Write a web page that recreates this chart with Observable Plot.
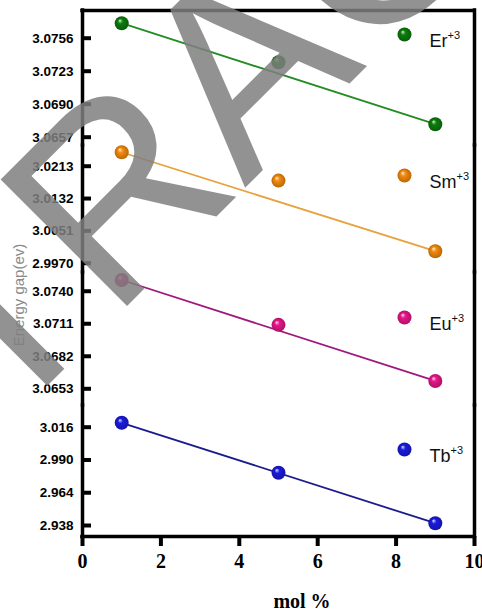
<!DOCTYPE html>
<html>
<head>
<meta charset="utf-8">
<script src="https://cdn.jsdelivr.net/npm/d3@7"></script>
<script src="https://cdn.jsdelivr.net/npm/@observablehq/plot@0.6"></script>
<style>
  html, body { margin: 0; padding: 0; background: #fff; }
  #wrap { position: relative; width: 482px; height: 611px; overflow: hidden; font-family: "Liberation Sans", Arial, sans-serif; }
  #wrap svg { position: absolute; left: 0; overflow: visible; }
</style>
</head>
<body>
<div id="wrap"></div>
<script>
// ---- data ----
const molPercent = [1, 5, 9];
const ions = ["Er", "Sm", "Eu", "Tb"];
const charges = ["+3", "+3", "+3", "+3"];
const erValues = [3.0771, 3.0732, 3.0670];
const smValues = [3.0248, 3.0177, 3.0000];
const euValues = [3.0750, 3.0710, 3.0660];
const tbValues = [3.0195, 2.9799, 2.9398];
const erTicks = [3.0756, 3.0723, 3.0690, 3.0657];
const smTicks = [3.0213, 3.0132, 3.0051, 2.9970];
const euTicks = [3.0740, 3.0711, 3.0682, 3.0653];
const tbTicks = [3.016, 2.990, 2.964, 2.938];
const xTicks = [0, 2, 4, 6, 8, 10];
const xLabel = "mol %";
const yLabel = "Energy gap(ev)";
const watermark = ["RET", "RACTED"];

// ---- layout / style ----
const panels = [
  {ion: ions[0], values: erValues, ticks: erTicks, fmt: ".4f", domain: [3.06487, 3.07837], top: 10,  bottom: 145, dot: "#0b7d0b", line: "#238c23", legendDy: 24},
  {ion: ions[1], values: smValues, ticks: smTicks, fmt: ".4f", domain: [2.99467, 3.02649], top: 145, bottom: 272, dot: "#f58a0b", line: "#e6a23c", legendDy: 30},
  {ion: ions[2], values: euValues, ticks: euTicks, fmt: ".4f", domain: [3.06381, 3.07567], top: 272, bottom: 405, dot: "#e8168a", line: "#a0177e", legendDy: 45},
  {ion: ions[3], values: tbValues, ticks: tbTicks, fmt: ".3f", domain: [2.92927, 3.03322], top: 405, bottom: 536, dot: "#1a1ae0", line: "#1b1b8f", legendDy: 44}
];
const W = 482, ML = 82, MR = 8;
const innerW = W - ML - MR;

// gradients for 3D-looking balls
const defs = d3.select("body").append("svg")
  .attr("width", 0).attr("height", 0)
  .style("position", "absolute").style("left", 0).style("top", 0)
  .append("defs");
panels.forEach((p, i) => {
  const g = defs.append("radialGradient").attr("id", "g" + i)
    .attr("cx", "50%").attr("cy", "50%").attr("r", "50%")
    .attr("fx", "36%").attr("fy", "30%");
  g.append("stop").attr("offset", "0%").attr("stop-color", d3.interpolateRgb(p.dot, "#fff")(0.85));
  g.append("stop").attr("offset", "35%").attr("stop-color", p.dot);
  g.append("stop").attr("offset", "100%").attr("stop-color", d3.color(p.dot).darker(0.8).formatHex());
});

const wrap = document.getElementById("wrap");
const frame = {stroke: "#000", strokeWidth: 3.5, strokeLinecap: "square"};

panels.forEach((p, i) => {
  const first = i === 0, last = i === panels.length - 1;
  const data = molPercent.map((x, j) => ({x, y: p.values[j]}));
  const fit = [data[0], data[data.length - 1]];
  const marks = [
    Plot.ruleX([0], frame),
    Plot.ruleX([10], frame),
    Plot.ruleY(p.ticks, {stroke: "#000", strokeWidth: 4, insetRight: innerW - 9}),
    Plot.axisY(p.ticks, {tickSize: 0, tickPadding: 9, tickFormat: d3.format(p.fmt),
      fontSize: 13.5, fontWeight: "bold", fill: "#000", label: null}),
    Plot.line(fit, {x: "x", y: "y", stroke: p.line, strokeWidth: 1.8}),
    Plot.dot(data, {x: "x", y: "y", r: 7, fill: `url(#g${i})`}),
    Plot.dot([p.ion], {frameAnchor: "top-right", dx: -70, dy: p.legendDy, r: 7, fill: `url(#g${i})`}),
    Plot.text([p.ion], {frameAnchor: "top-right", dx: -45, dy: p.legendDy, text: d => d,
      textAnchor: "start", fontSize: 18, fill: "#111"})
  ];
  if (first) marks.push(Plot.ruleY([p.domain[1]], frame));
  if (last) {
    marks.push(Plot.ruleY([p.domain[0]], frame));
    marks.push(Plot.axisX(xTicks, {tickSize: 10, strokeWidth: 4, tickPadding: 7, fontSize: 20,
      fontWeight: "bold", fontFamily: "Liberation Serif, Times New Roman, serif", fill: "#000", label: null}));
  }
  const mb = last ? W === 482 ? 611 - 536 : 75 : 0;
  const svg = Plot.plot({
    width: W,
    height: (p.bottom - p.top) + mb,
    marginLeft: ML, marginRight: MR, marginTop: 0, marginBottom: mb,
    x: {domain: [0, 10], axis: null},
    y: {domain: p.domain, axis: null},
    style: {background: "none", overflow: "visible", fontFamily: "Liberation Sans, Arial, sans-serif"},
    marks
  });
  svg.style.top = p.top + "px";
  d3.select(svg).selectAll("text")
    .filter(function () { return this.textContent === p.ion; })
    .append("tspan").attr("dy", -8).attr("font-size", 11).text(charges[i]);
  wrap.appendChild(svg);
});

// overlay: axis labels + watermark
const over = d3.select(wrap).append("svg")
  .attr("width", 482).attr("height", 611)
  .style("left", 0).style("top", 0).style("pointer-events", "none");
over.append("text")
  .attr("transform", "translate(18,295) rotate(-90)")
  .attr("text-anchor", "middle").attr("dominant-baseline", "central")
  .attr("font-family", "Liberation Sans, Arial, sans-serif").attr("font-size", 15)
  .attr("fill", "#8a8a8a").text(yLabel);
over.append("text")
  .attr("x", 302).attr("y", 608).attr("text-anchor", "middle")
  .attr("font-family", "Liberation Serif, Times New Roman, serif").attr("font-weight", "bold")
  .attr("font-size", 20).attr("fill", "#000").text(xLabel);
const wm = over.append("g")
  .attr("transform", "translate(112,321) rotate(-45)")
  .attr("fill", "#7f7f7f").attr("fill-opacity", 0.85)
  .attr("font-family", "Liberation Sans, Arial, sans-serif").attr("font-size", 260);
wm.append("text").attr("text-anchor", "end").text(watermark[0]);
wm.append("text").attr("text-anchor", "start").text(watermark[1]);
</script>
</body>
</html>
